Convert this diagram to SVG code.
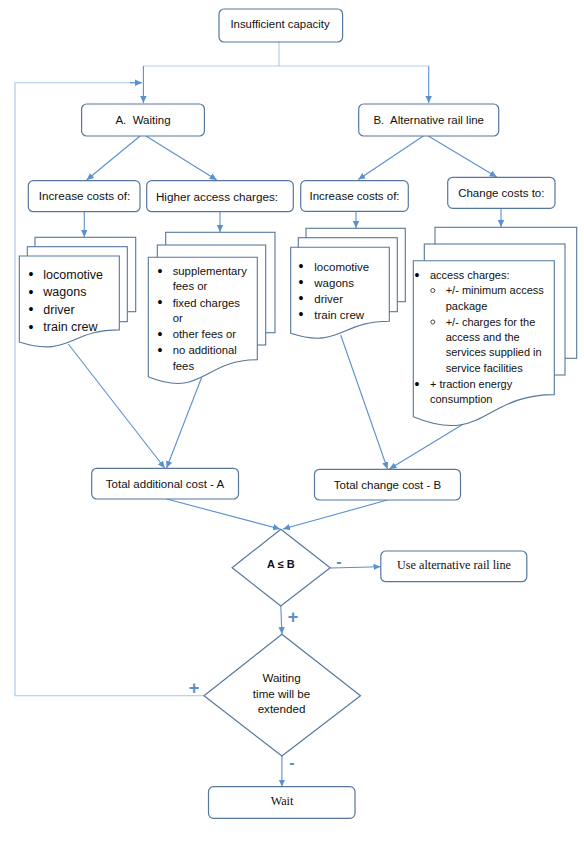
<svg xmlns="http://www.w3.org/2000/svg" width="584" height="850" viewBox="0 0 584 850">
<defs>
<marker id="ah" markerWidth="8" markerHeight="8" refX="7" refY="4" orient="auto" markerUnits="userSpaceOnUse">
<path d="M0,0.8 L7,4 L0,7.2 Z" fill="#5b8fcf"/>
</marker>
<style>
.box{fill:#fff;stroke:#55779e;stroke-width:1.2}
.doc{fill:#fff;stroke:#55779e;stroke-width:1.1}
.dia{fill:#fff;stroke:#55779e;stroke-width:1.2}
.ln{fill:none;stroke:#5b8fcf;stroke-width:1.1}
.lt{fill:none;stroke:#b9cde6;stroke-width:1.2}
.fb{fill:none;stroke:#a9c5e8;stroke-width:1.1}
.t{font-family:"Liberation Sans",Arial,sans-serif;fill:#111}
.c{text-anchor:middle}
.b{font-family:"Liberation Sans",Arial,sans-serif;fill:#000;font-size:14px;text-anchor:middle}
.o{fill:none;stroke:#222;stroke-width:0.8}
.s{font-family:"Liberation Serif","Times New Roman",serif;fill:#111;text-anchor:middle}
.lab{font-family:"Liberation Sans",Arial,sans-serif;fill:#5b8fcf;font-weight:bold;text-anchor:middle}
</style>
</defs>
<rect width="584" height="850" fill="#fff"/>

<g id="connectors">
<path class="lt" d="M279,42 V66 M143.4,66 H428.7"/>
<path class="ln" d="M143.4,66 V103" marker-end="url(#ah)"/>
<path class="ln" d="M428.7,66 V103" marker-end="url(#ah)"/>
<path class="fb" d="M204,695.7 H15 V82.7 H136"/>
<path class="ln" d="M130,82.7 H142" marker-end="url(#ah)"/>
<path class="ln" d="M140,136 L86.7,180" marker-end="url(#ah)"/>
<path class="ln" d="M146,136 L216.7,180" marker-end="url(#ah)"/>
<path class="ln" d="M423.3,136 L358.3,179.5" marker-end="url(#ah)"/>
<path class="ln" d="M428.3,136 L496.7,177" marker-end="url(#ah)"/>
<path class="ln" d="M84.3,211.7 V237" marker-end="url(#ah)"/>
<path class="ln" d="M220,211.7 V232" marker-end="url(#ah)"/>
<path class="ln" d="M356,211.3 V228" marker-end="url(#ah)"/>
<path class="ln" d="M501,208.3 V227" marker-end="url(#ah)"/>
<path class="ln" d="M68.3,344 L164.7,468" marker-end="url(#ah)"/>
<path class="ln" d="M201.7,377.3 L166.6,468" marker-end="url(#ah)"/>
<path class="ln" d="M340.7,335 L387.5,469" marker-end="url(#ah)"/>
<path class="ln" d="M469.9,420 L389.4,469" marker-end="url(#ah)"/>
<path class="ln" d="M166.6,499 L280,529" marker-end="url(#ah)"/>
<path class="ln" d="M387.5,500 L283,529" marker-end="url(#ah)"/>
<path class="ln" d="M330.2,568 L380.5,566.7" marker-end="url(#ah)"/>
<path class="ln" d="M280.8,606 L281.9,634" marker-end="url(#ah)"/>
<path class="ln" d="M281.9,756 V786.5" marker-end="url(#ah)"/>
<text class="lab" x="339" y="567" font-size="16">-</text>
<text class="lab" x="293" y="623" font-size="18">+</text>
<text class="lab" x="194" y="694" font-size="18">+</text>
<text class="lab" x="292" y="768" font-size="16">-</text>
</g>

<g id="insufficient">
<rect class="box" x="219" y="9" width="123.6" height="33" rx="5"/>
<text class="t c" x="280" y="27.5" font-size="11.4">Insufficient capacity</text>
</g>

<g id="waiting">
<rect class="box" x="81.6" y="104" width="122.8" height="32" rx="5"/>
<text class="t c" x="143" y="124" font-size="11.5" xml:space="preserve">A.  Waiting</text>
</g>

<g id="alternative">
<rect class="box" x="358.7" y="104" width="140" height="32" rx="5"/>
<text class="t c" x="428.7" y="124" font-size="11.5" xml:space="preserve">B.  Alternative rail line</text>
</g>

<g id="increaseA">
<rect class="box" x="28.3" y="180.7" width="111.7" height="31" rx="5"/>
<text class="t c" x="84.5" y="200" font-size="11.7">Increase costs of:</text>
</g>

<g id="higher">
<rect class="box" x="146.7" y="180.7" width="146.6" height="31" rx="5"/>
<text class="t c" x="217" y="200.5" font-size="11.7">Higher access charges:</text>
</g>

<g id="increaseB">
<rect class="box" x="300.7" y="180.7" width="107.6" height="30.6" rx="5"/>
<text class="t c" x="354.5" y="200" font-size="11.5">Increase costs of:</text>
</g>

<g id="change">
<rect class="box" x="447.7" y="177.3" width="107.3" height="31" rx="5"/>
<text class="t c" x="501.3" y="197" font-size="11.5">Change costs to:</text>
</g>

<g id="docA">
<rect class="doc" x="35" y="237.3" width="100.7" height="74.4"/>
<rect class="doc" x="27.3" y="246.7" width="100" height="75"/>
<path class="doc" d="M19.3,256 H119.3 V329.9 C69.3,329.9 69.3,358 19.3,342 Z"/>
<text class="b" x="31" y="279">•</text><text class="t" x="43.3" y="278.5" font-size="12.5">locomotive</text>
<text class="b" x="31" y="296.5">•</text><text class="t" x="43.3" y="296" font-size="12.5">wagons</text>
<text class="b" x="31" y="314">•</text><text class="t" x="43.3" y="313.5" font-size="12.5">driver</text>
<text class="b" x="31" y="331.5">•</text><text class="t" x="43.3" y="331" font-size="12.5">train crew</text>
</g>

<g id="docHigher">
<rect class="doc" x="165.7" y="232.3" width="109.3" height="100.4"/>
<rect class="doc" x="157.3" y="245" width="108.4" height="100"/>
<path class="doc" d="M148.3,257.3 H257.3 V359.8 C202.8,359.8 202.8,398.8 148.3,376.7 Z"/>
<text class="b" x="160" y="275.5">•</text><text class="t" x="172.7" y="275" font-size="11.3">supplementary</text>
<text class="t" x="172.7" y="290" font-size="11.3">fees or</text>
<text class="b" x="160" y="307.2">•</text><text class="t" x="172.7" y="306.7" font-size="11.3">fixed charges</text>
<text class="t" x="172.7" y="322.3" font-size="11.3">or</text>
<text class="b" x="160" y="338.5">•</text><text class="t" x="172.7" y="338" font-size="11.3">other fees or</text>
<text class="b" x="160" y="354.5">•</text><text class="t" x="172.7" y="354" font-size="11.3">no additional</text>
<text class="t" x="172.7" y="369.7" font-size="11.3">fees</text>
</g>

<g id="docB">
<rect class="doc" x="306" y="228.3" width="99.3" height="73.4"/>
<rect class="doc" x="298.3" y="237.7" width="99" height="74"/>
<path class="doc" d="M290.7,247.3 H389.3 V321.2 C340,321.2 340,349.3 290.7,333.3 Z"/>
<text class="b" x="301" y="271.2">•</text><text class="t" x="314.3" y="270.7" font-size="11.5">locomotive</text>
<text class="b" x="301" y="287.2">•</text><text class="t" x="314.3" y="286.7" font-size="11.5">wagons</text>
<text class="b" x="301" y="303.2">•</text><text class="t" x="314.3" y="302.7" font-size="11.5">driver</text>
<text class="b" x="301" y="319.2">•</text><text class="t" x="314.3" y="318.7" font-size="11.5">train crew</text>
</g>

<g id="docChange">
<rect class="doc" x="435" y="227.3" width="141.7" height="131"/>
<rect class="doc" x="424.3" y="244" width="140.7" height="131"/>
<path class="doc" d="M413.3,260.7 H554.3 V394.6 C483.8,394.6 483.8,445.6 413.3,416.7 Z"/>
<text class="b" x="417" y="279.5">•</text><text class="t" x="430" y="279" font-size="11">access charges:</text>
<circle class="o" cx="432.8" cy="290.5" r="2"/><text class="t" x="445.7" y="294" font-size="11">+/- minimum access</text>
<text class="t" x="445.7" y="309.7" font-size="11">package</text>
<circle class="o" cx="432.8" cy="322" r="2"/><text class="t" x="445.7" y="325.7" font-size="11">+/- charges for the</text>
<text class="t" x="445.7" y="340.7" font-size="11">access and the</text>
<text class="t" x="445.7" y="356.3" font-size="11">services supplied in</text>
<text class="t" x="445.7" y="371.7" font-size="11">service facilities</text>
<text class="b" x="417" y="388.8">•</text><text class="t" x="430" y="388.3" font-size="11">+ traction energy</text>
<text class="t" x="430" y="403.3" font-size="11">consumption</text>
</g>

<g id="totalA">
<rect class="box" x="91.7" y="468.3" width="146.8" height="30.7" rx="5"/>
<text class="t c" x="165" y="488" font-size="11.5">Total additional cost - A</text>
</g>

<g id="totalB">
<rect class="box" x="314.5" y="469.3" width="146" height="30.7" rx="5"/>
<text class="t c" x="387.5" y="489" font-size="11.5">Total change cost - B</text>
</g>

<g id="compare">
<path class="dia" d="M280.8,529.3 L330.2,567.7 L280.8,606 L232.1,567.7 Z"/>
<text class="t c" x="280.8" y="568" font-size="11" font-weight="bold">A ≤ B</text>
</g>

<g id="useAlt">
<rect class="box" x="380.8" y="551" width="146" height="30.7" rx="5"/>
<text class="s" x="454" y="568.5" font-size="12.2">Use alternative rail line</text>
</g>

<g id="extended">
<path class="dia" d="M281.9,634.3 L360.5,695.7 L281.9,756 L204,695.7 Z"/>
<text class="t c" x="281.5" y="681.5" font-size="11.6">Waiting</text>
<text class="t c" x="281.5" y="697.5" font-size="11.6">time will be</text>
<text class="t c" x="281.5" y="713" font-size="11.6">extended</text>
</g>

<g id="wait">
<rect class="box" x="208.5" y="786.7" width="146.5" height="31.6" rx="5"/>
<text class="s" x="282" y="805" font-size="12.2">Wait</text>
</g>
</svg>
